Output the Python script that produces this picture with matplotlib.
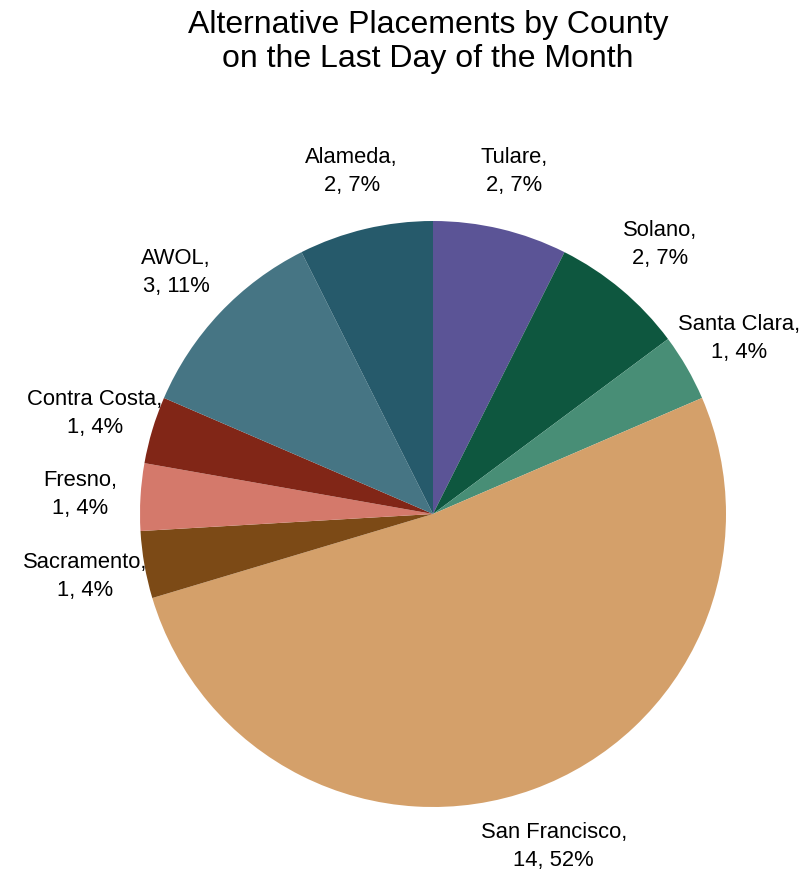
import matplotlib
matplotlib.use("Agg")
import matplotlib.pyplot as plt
import numpy as np

counties = ["Tulare", "Solano", "Santa Clara", "San Francisco", "Sacramento",
            "Fresno", "Contra Costa", "AWOL", "Alameda"]
counts = [2, 2, 1, 14, 1, 1, 1, 3, 2]
colors = ["#5b5496", "#0e573f", "#488e76", "#d4a06a", "#7c4a16",
          "#d4796b", "#812617", "#467584", "#265a6b"]
title = "Alternative Placements by County\non the Last Day of the Month"

plt.rcParams['font.family'] = ['Liberation Sans', 'DejaVu Sans']

W, H = 802, 879
fig = plt.figure(figsize=(W / 100, H / 100), dpi=100)
ax = fig.add_axes([0, 0, 1, 1])
cx, cy, R = 433, 515, 293

total = sum(counts)
labels = [f"{n},\n{c}, {round(100 * c / total)}%" for n, c in zip(counties, counts)]

wedges, texts = ax.pie(counts, colors=colors, startangle=90, counterclock=False,
                       labels=labels, labeldistance=1.205, radius=1,
                       wedgeprops=dict(linewidth=0),
                       textprops=dict(fontsize=15.8, linespacing=1.42))
for t in texts:
    t.set_ha('center')
    t.set_va('center')

ax.set_aspect('auto')
ax.set_xlim(-cx / R, (W - cx) / R)
ax.set_ylim(-(H - cy) / R, cy / R)
ax.axis('off')

fig.text(428 / W, 1 - 42 / H, title, ha='center', va='center',
         fontsize=23, linespacing=1.14)

fig.savefig("out.png", dpi=100)
